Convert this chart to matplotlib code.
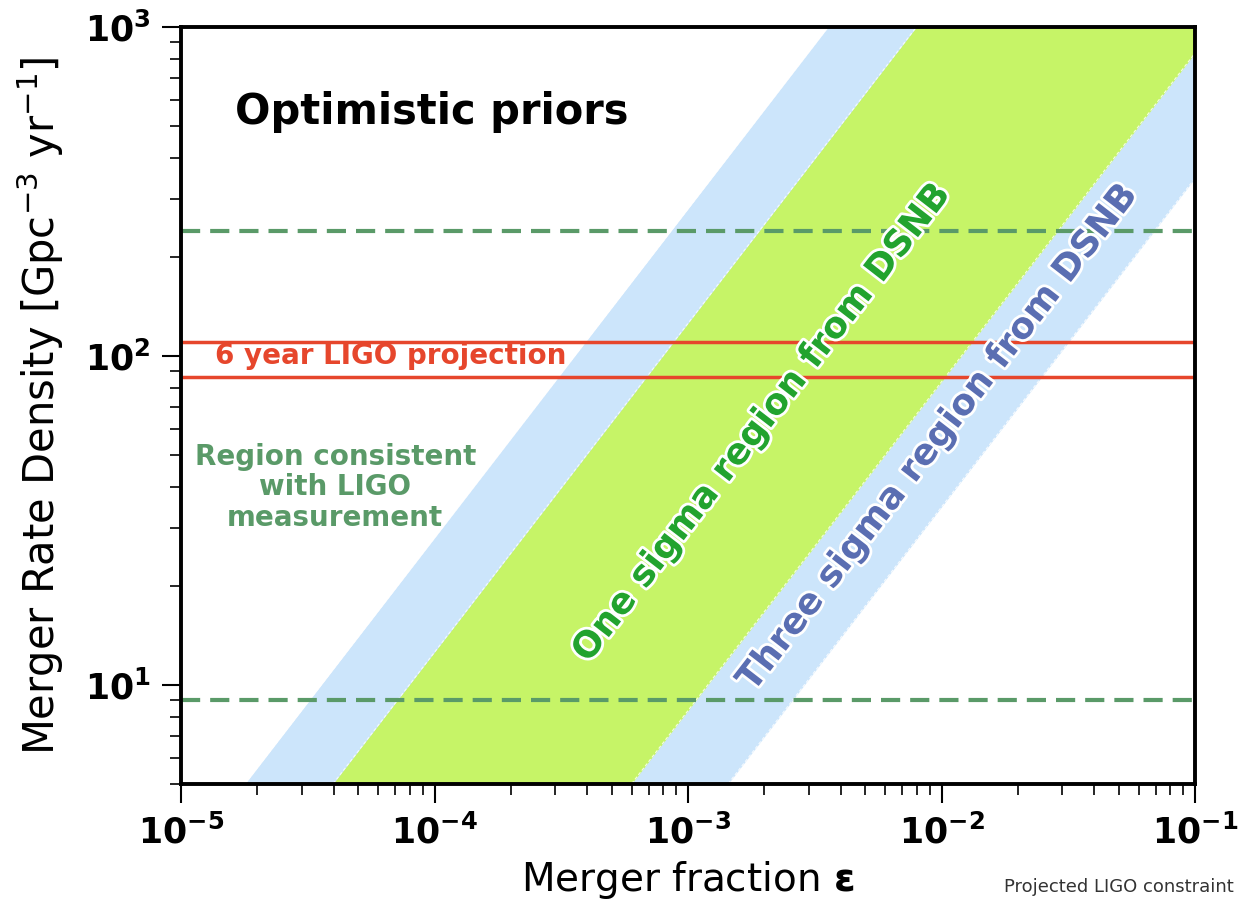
import numpy as np
import matplotlib
matplotlib.use("Agg")
import matplotlib.pyplot as plt
import matplotlib.patheffects as pe
from matplotlib.ticker import FuncFormatter

# --- data ---
# band edges: merger fraction at the bottom (rate=5) and top (rate=1000) of the plot
rate_ends = [5, 1000]
three_sigma_low = [1.79e-5, 3.57e-3]
one_sigma_low = [3.98e-5, 7.96e-3]
one_sigma_high = [5.99e-4, 0.120]
three_sigma_high = [1.44e-3, 0.288]

ligo_measured = [9.0, 239.0]       # green dashed bounds
ligo_projected = [86.0, 110.0]     # red 6-year projection

xticks = [1e-5, 1e-4, 1e-3, 1e-2, 1e-1]
yticks = [1e1, 1e2, 1e3]

blue = '#cce5fb'
lime = '#c6f467'
green_dash = '#5a9a68'
red = '#e6462c'

fig = plt.figure(figsize=(12.39, 9.07), dpi=100)
ax = fig.add_axes([0.1461, 0.1359, 0.8184, 0.8343])
ax.set_xscale('log')
ax.set_yscale('log')

# bands
ax.fill_betweenx(rate_ends, three_sigma_low, three_sigma_high, color=blue, lw=0, zorder=1)
ax.fill_betweenx(rate_ends, one_sigma_low, one_sigma_high, color=lime, lw=0, zorder=2)
for edge in [three_sigma_low, one_sigma_low, one_sigma_high, three_sigma_high]:
    ax.plot(edge, rate_ends, color='white', lw=0.8, ls=(0, (3, 2)), alpha=0.8, zorder=3)

# horizontal constraints
for r in ligo_measured:
    ax.axhline(r, color=green_dash, lw=3, ls=(0, (4.6, 2.4)), zorder=4)
for r in ligo_projected:
    ax.axhline(r, color=red, lw=2.5, zorder=4)

ax.set_xlim(1e-5, 1e-1)
ax.set_ylim(5, 1000)

# labels inside the plot
ax.text(0.053, 0.888, 'Optimistic priors', transform=ax.transAxes,
        fontsize=30, fontweight='bold', va='center', ha='left', zorder=6)
ax.text(6.7e-5, 100, '6 year LIGO projection', color=red, fontsize=20,
        fontweight='bold', ha='center', va='center', zorder=6)
ax.text(4.06e-5, 39.8, 'Region consistent\nwith LIGO\nmeasurement', color=green_dash,
        fontsize=20, fontweight='bold', ha='center', va='center',
        linespacing=1.1, zorder=6)
stroke = [pe.withStroke(linewidth=4, foreground='white')]
ax.text(1.96e-3, 62.7, 'One sigma region from DSNB', color='#22a32e', fontsize=26,
        fontweight='bold', rotation=52.3, ha='center', va='center',
        rotation_mode='anchor', path_effects=stroke, zorder=6)
ax.text(9.7e-3, 56.5, 'Three sigma region from DSNB', color='#5a6eb2', fontsize=26,
        fontweight='bold', rotation=52.3, ha='center', va='center',
        rotation_mode='anchor', path_effects=stroke, zorder=6)

# axes styling
for s in ['left', 'bottom', 'top', 'right']:
    ax.spines[s].set_linewidth(2.8)
    ax.spines[s].set_zorder(7)
ax.tick_params(which='major', direction='out', length=14, width=1.5,
               top=False, right=False, pad=8)
ax.tick_params(which='minor', direction='out', length=8, width=1.2,
               top=False, right=False)
ax.set_xticks(xticks)
ax.set_yticks(yticks)
fmt = FuncFormatter(lambda v, p: r'$\mathbf{10^{%d}}$' % int(round(np.log10(v))))
ax.xaxis.set_major_formatter(fmt)
ax.yaxis.set_major_formatter(fmt)
for lab in ax.get_xticklabels() + ax.get_yticklabels():
    lab.set_fontsize(25)

ax.set_xlabel(r'Merger fraction $\boldsymbol{\varepsilon}$', fontsize=28)
ax.set_ylabel(r'Merger Rate Density [Gpc$^{-3}$ yr$^{-1}$]', fontsize=30)
ax.xaxis.set_label_coords(0.5, -0.1)
ax.yaxis.set_label_coords(-0.113, 0.5)

fig.text(0.996, 0.012, 'Projected LIGO constraint', fontsize=13, color='#333333',
         ha='right', va='bottom')

fig.savefig('out.png', dpi=100)
